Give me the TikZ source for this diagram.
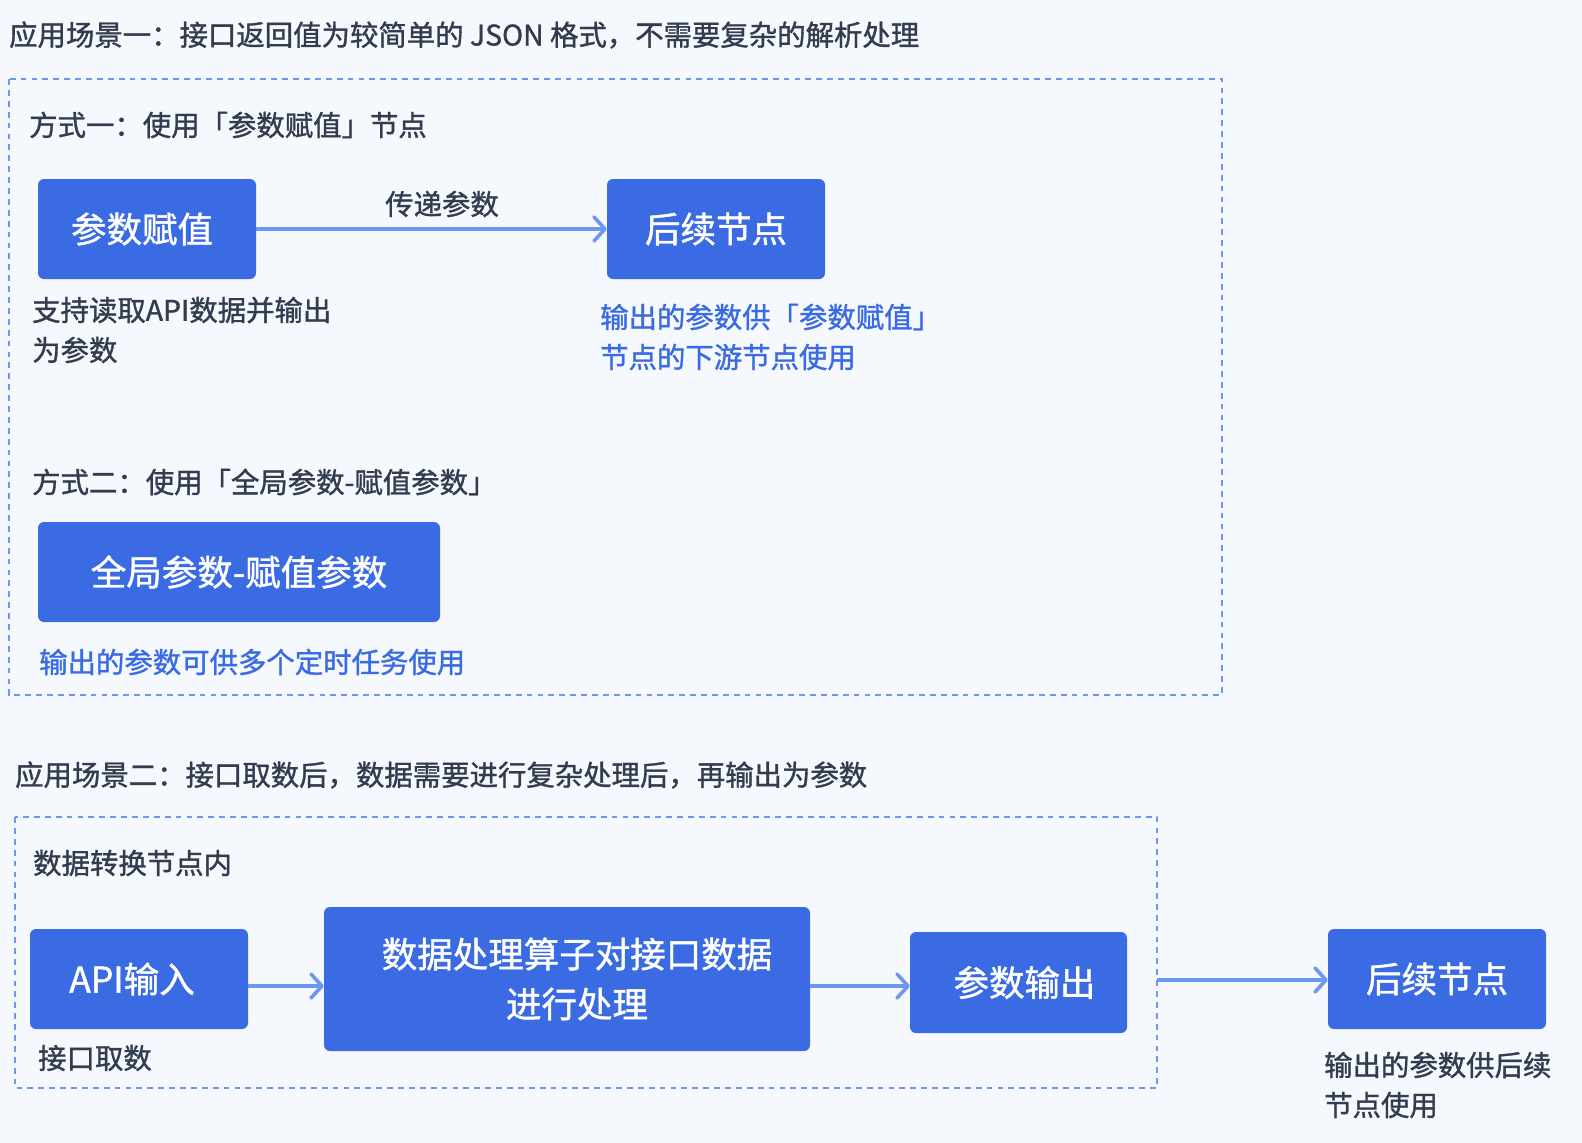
\documentclass[tikz,border=0pt]{standalone}
\usepackage{fontspec}
\setmainfont{Noto Sans CJK SC}[FakeBold=1.2]
\usetikzlibrary{arrows.meta,positioning}
\definecolor{pagebg}{HTML}{F5F9FE}
\definecolor{boxblue}{HTML}{3A6BE3}
\definecolor{lineblue}{HTML}{6E97F1}
\definecolor{inkdark}{HTML}{323C4E}
\definecolor{inkblue}{HTML}{3A6BE3}

\begin{document}
\begin{tikzpicture}[x=1pt,y=-1pt,
    card/.style={fill=boxblue,rounded corners=6pt,text=white,inner sep=0pt,align=center,font=\boxfontsize},
    caption/.style={text=inkdark,inner sep=0pt,anchor=west,align=left,font=\textfontsize},
    bluecaption/.style={caption,text=inkblue},
    frame/.style={draw=lineblue,line width=2.9pt,dash pattern=on 5.8pt off 5.1pt},
    pass/.style={draw=lineblue,line width=3.6pt,-{Straight Barb[length=11pt,width=24pt,round]}}]
    \providecommand{\boxfontsize}{\fontsize{35.5}{50}\selectfont}
    \providecommand{\textfontsize}{\fontsize{28.4}{40}\selectfont}
    \pgfmathsetmacro{\cardwidth}{218}
    \pgfmathsetmacro{\cardheight}{100}
    \fill[pagebg] (0,0) rectangle (1582,1143);
    % scene one
    \node[caption] (title1) at (9,35) {应用场景一：接口返回值为较简单的 JSON 格式，不需要复杂的解析处理};
    \draw[frame] (9,79) rectangle (1222,695);
    \node[caption] (way1) at (29,125) {方式一：使用「参数赋值」节点};
    \node[card,minimum width=\cardwidth pt,minimum height=\cardheight pt] (assign) at (147,229) {参数赋值\hspace*{10pt}};
    \node[card,minimum width=\cardwidth pt,minimum height=\cardheight pt] (next1) at (716,229) {后续节点};
    \draw[pass] (assign) -- (next1) node[caption,pos=0.53,above=10pt] (passlabel) {传递参数};
    \node[caption] (readnote) at (32,330) {支持读取API数据并输出\\为参数};
    \node[bluecaption] (next1note) at (600,337) {输出的参数供「参数赋值」\\节点的下游节点使用};
    \node[caption] (way2) at (32,482) {方式二：使用「全局参数-赋值参数」};
    \node[card,minimum width=402pt,minimum height=\cardheight pt] (global) at (239,572) {全局参数-赋值参数};
    \node[bluecaption] (globalnote) at (39,662) {输出的参数可供多个定时任务使用};
    % scene two
    \node[caption] (title2) at (15,775) {应用场景二：接口取数后，数据需要进行复杂处理后，再输出为参数};
    \draw[frame] (15,817) rectangle (1157,1088);
    \node[caption] (inside) at (33,863) {数据转换节点内};
    \node[card,minimum width=\cardwidth pt,minimum height=\cardheight pt] (api) at (139,979) {API输入\hspace*{14pt}};
    \node[card,minimum width=486pt,minimum height=144pt] (worker) at (567,979) {\hspace*{20pt}数据处理算子对接口数据\\\hspace*{20pt}进行处理};
    \node[card,minimum width=217pt,minimum height=101pt] (out) at (1018.5,982.5) {\hspace*{12pt}参数输出};
    \node[card,minimum width=\cardwidth pt,minimum height=\cardheight pt] (next2) at (1437,979) {后续节点};
    \node[caption] (apinote) at (38,1058) {接口取数};
    \node[caption] (next2note) at (1324,1085) {输出的参数供后续\\节点使用};
    \coordinate (frameedge) at (1157,980);
    \draw[pass] ([yshift=-7pt]api.east) -- ([yshift=-7pt]api.east -| worker.west);
    \draw[pass] ([yshift=-7pt]worker.east) -- ([yshift=-7pt]worker.east -| out.west);
    \draw[pass] (frameedge) -- (frameedge -| next2.west);
\end{tikzpicture}
\end{document}
